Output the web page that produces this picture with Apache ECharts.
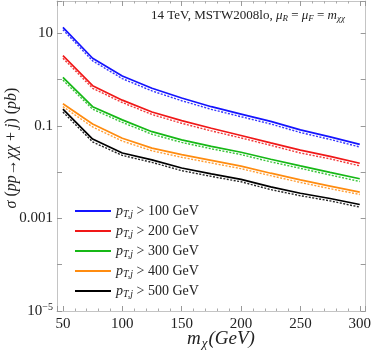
<!DOCTYPE html>
<html><head><meta charset="utf-8">
<script src="https://cdn.jsdelivr.net/npm/echarts@6/dist/echarts.min.js"></script>
<style>html,body{margin:0;padding:0;background:#fff}#c{width:374px;height:350px}</style>
</head><body><div id="c"></div>
<script>
var masses = [50, 75, 100, 125, 150, 175, 200, 225, 250, 275, 300];
var cutLabels = ['100', '200', '300', '400', '500'];
var colors = ['#1414ff', '#f01818', '#16b816', '#ff8c10', '#000000'];
var solid100 = [13.5, 2.9, 1.2, 0.65, 0.40, 0.26, 0.18, 0.125, 0.082, 0.058, 0.040];
var solid200 = [3.3, 0.74, 0.36, 0.20, 0.13, 0.089, 0.062, 0.043, 0.030, 0.022, 0.0156];
var solid300 = [1.12, 0.26, 0.135, 0.075, 0.050, 0.036, 0.027, 0.019, 0.0137, 0.0099, 0.0072];
var solid400 = [0.30, 0.11, 0.054, 0.033, 0.024, 0.018, 0.0135, 0.0095, 0.0068, 0.0050, 0.0037];
var solid500 = [0.23, 0.052, 0.026, 0.0185, 0.0123, 0.0092, 0.0070, 0.0048, 0.0035, 0.0027, 0.0020];
var dashed100 = [12.0, 2.55, 1.05, 0.57, 0.35, 0.228, 0.158, 0.110, 0.072, 0.051, 0.035];
var dashed200 = [2.9, 0.65, 0.32, 0.176, 0.114, 0.078, 0.055, 0.038, 0.026, 0.0194, 0.0137];
var dashed300 = [0.98, 0.23, 0.119, 0.066, 0.044, 0.032, 0.024, 0.0167, 0.0121, 0.0087, 0.0063];
var dashed400 = [0.26, 0.095, 0.047, 0.029, 0.021, 0.0158, 0.0119, 0.0084, 0.0060, 0.0044, 0.0033];
var dashed500 = [0.20, 0.045, 0.023, 0.0163, 0.0108, 0.0081, 0.0062, 0.0042, 0.0031, 0.0024, 0.00176];

var solids = [solid100, solid200, solid300, solid400, solid500];
var dashes = [dashed100, dashed200, dashed300, dashed400, dashed500];

var serif = '"Liberation Serif", "DejaVu Serif", serif';
var frameColor = '#c4c4c4';
var ink = '#222';

function pairs(arr) { return masses.map(function (m, i) { return [m, arr[i]]; }); }

var series = [];
cutLabels.forEach(function (c, k) {
  series.push({
    name: c, type: 'line', data: pairs(solids[k]), symbol: 'none', smooth: false,
    lineStyle: { color: colors[k], width: 1.7 }, itemStyle: { color: colors[k] }, z: 3
  });
  series.push({
    name: c + ' dashed', type: 'line', data: pairs(dashes[k]), symbol: 'none', smooth: false,
    lineStyle: { color: colors[k], width: 1.4, type: [2, 1.5], opacity: 0.85 }, itemStyle: { color: colors[k] }, z: 2
  });
});

function yLabel(v) {
  var l = Math.log10(v), e = Math.round(l);
  if (Math.abs(l - e) > 1e-6 || Math.abs(e % 2) !== 1) return '';
  if (e === 1) return '10';
  if (e === -1) return '0.1';
  if (e === -3) return '0.001';
  if (e === -5) return '10{sup|\u22125}';
  return '';
}

var chart = echarts.init(document.getElementById('c'), null, { renderer: 'canvas' });
chart.setOption({
  animation: false,
  backgroundColor: '#fff',
  grid: { left: 57, right: 6, top: 1, bottom: 39, containLabel: false },
  title: {
    text: '14 TeV, MSTW2008lo, {i|\u03bc}{s|R} = {i|\u03bc}{s|F} = {i|m}{s|\u03c7\u03c7}',
    left: 151, top: 8, padding: 0,
    textStyle: {
      fontFamily: serif, fontSize: 13, fontWeight: 'normal', color: ink,
      rich: {
        i: { fontFamily: serif, fontStyle: 'italic', fontSize: 13, color: ink },
        s: { fontFamily: serif, fontStyle: 'italic', fontSize: 9, color: ink, padding: [6, 0, 0, 0] }
      }
    }
  },
  legend: {
    data: cutLabels, orient: 'vertical', left: 75, top: 203,
    icon: 'rect', itemWidth: 36, itemHeight: 2, itemGap: 4, padding: 0,
    formatter: function (n) { return '{i|p}{s|T,j} > ' + n + ' GeV'; },
    textStyle: {
      fontFamily: serif, fontSize: 14, color: ink, height: 14, lineHeight: 14,
      rich: {
        i: { fontFamily: serif, fontStyle: 'italic', fontSize: 14, color: ink, lineHeight: 14 },
        s: { fontFamily: serif, fontStyle: 'italic', fontSize: 10, color: ink, lineHeight: 14, padding: [6, 0, 0, 0] }
      }
    }
  },
  graphic: [{
    type: 'text', x: 221, y: 339, silent: true,
    style: {
      text: '{i|m}{s|\u03c7}{i|(GeV)}', align: 'center', verticalAlign: 'middle',
      rich: {
        i: { fontFamily: serif, fontStyle: 'italic', fontSize: 19, fill: ink },
        s: { fontFamily: serif, fontStyle: 'italic', fontSize: 13, fill: ink, padding: [9, 1, 0, 1] }
      }
    }
  }, {
    type: 'text', x: 12, y: 148, rotation: Math.PI / 2, silent: true,
    style: {
      text: '{i|\u03c3} ({i|pp}\u2192{i|\u03c7\u03c7} + {i|j}) ({i|pb})', align: 'center', verticalAlign: 'middle',
      fontFamily: serif, fontSize: 16, fill: ink,
      rich: {
        i: { fontFamily: serif, fontStyle: 'italic', fontSize: 16, fill: ink }
      }
    }
  }],
  xAxis: [{
    type: 'value', min: 45, max: 305, splitNumber: 5,
    axisLine: { show: true, lineStyle: { color: frameColor, width: 1 } },
    axisTick: { show: true, inside: true, length: 5, lineStyle: { color: '#999' } },
    minorTick: { show: true, splitNumber: 5, length: 2.5, lineStyle: { color: '#aaa' } },
    splitLine: { show: false },
    axisLabel: {
      fontFamily: serif, fontSize: 15, color: ink, margin: 6,
      formatter: function (v) { return (Math.abs(v % 50) < 1e-6) ? String(v) : ''; }
    }
  }, {
    type: 'value', min: 45, max: 305, splitNumber: 5, position: 'top',
    axisLine: { show: true, lineStyle: { color: frameColor, width: 1 } },
    axisTick: { show: true, inside: true, length: 5, lineStyle: { color: '#999' } },
    minorTick: { show: true, splitNumber: 5, length: 2.5, lineStyle: { color: '#aaa' } },
    splitLine: { show: false }, axisLabel: { show: false }
  }],
  yAxis: [{
    type: 'log', logBase: 10, min: 1e-5, max: 50,
    axisLine: { show: true, lineStyle: { color: frameColor, width: 1 } },
    axisTick: { show: true, inside: true, length: 5, lineStyle: { color: '#999' } },
    splitLine: { show: false },
    axisLabel: {
      fontFamily: serif, fontSize: 15, color: ink, margin: 4,
      formatter: yLabel,
      rich: { sup: { fontFamily: serif, fontSize: 10, color: ink, padding: [0, 0, 8, 0] } }
    }
  }, {
    type: 'log', logBase: 10, min: 1e-5, max: 50, position: 'right',
    axisLine: { show: true, lineStyle: { color: frameColor, width: 1 } },
    axisTick: { show: true, inside: true, length: 5, lineStyle: { color: '#999' } },
    splitLine: { show: false }, axisLabel: { show: false }
  }],
  series: series
});
</script></body></html>
